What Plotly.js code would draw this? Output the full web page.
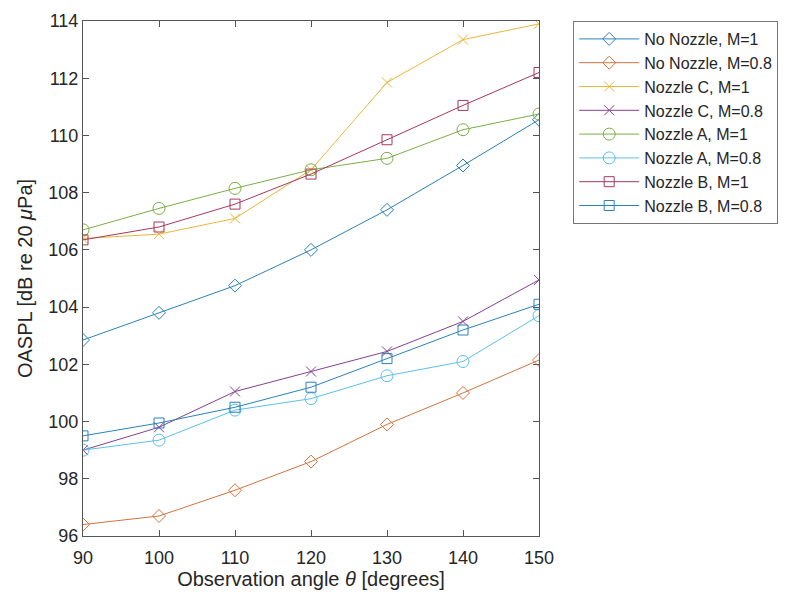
<!DOCTYPE html>
<html>
<head>
<meta charset="utf-8">
<script src="https://cdn.plot.ly/plotly-3.0.1.min.js"></script>
<style>html,body{margin:0;padding:0;background:#fff;}#chart{width:787px;height:599px;}</style>
</head>
<body>
<div id="chart"></div>
<script>
const angles = [90, 100, 110, 120, 130, 140, 150];
const noNozzleM1  = [102.85, 103.8, 104.75, 106.0, 107.4, 108.95, 110.55];
const noNozzleM08 = [96.4, 96.7, 97.6, 98.6, 99.9, 101.0, 102.15];
const nozzleCM1   = [106.4, 106.55, 107.1, 108.8, 111.85, 113.35, 113.9];
const nozzleCM08  = [99.0, 99.8, 101.05, 101.75, 102.45, 103.5, 104.95];
const nozzleAM1   = [106.7, 107.45, 108.15, 108.8, 109.2, 110.2, 110.75];
const nozzleAM08  = [99.0, 99.35, 100.4, 100.8, 101.6, 102.1, 103.7];
const nozzleBM1   = [106.35, 106.8, 107.6, 108.65, 109.85, 111.05, 112.2];
const nozzleBM08  = [99.5, 99.95, 100.5, 101.2, 102.2, 103.2, 104.1];

const names = ["No Nozzle, M=1","No Nozzle, M=0.8","Nozzle C, M=1","Nozzle C, M=0.8",
               "Nozzle A, M=1","Nozzle A, M=0.8","Nozzle B, M=1","Nozzle B, M=0.8"];
const series = [noNozzleM1, noNozzleM08, nozzleCM1, nozzleCM08, nozzleAM1, nozzleAM08, nozzleBM1, nozzleBM08];
const colors = ["#2a82b8","#d2733f","#e8b83a","#85418f","#7cae45","#5cc0ea","#a8385a","#2a82b8"];
const symbols = ["diamond-open","diamond-open","x-thin-open","x-thin-open","circle-open","circle-open","square-open","square-open"];
const sizes = [10, 10, 10, 10, 12, 12, 10, 10];

const traces = series.map((ys, i) => ({
  x: angles, y: ys, name: names[i], type: 'scatter', mode: 'lines+markers',
  line: {color: colors[i], width: 1},
  marker: {symbol: symbols[i], size: sizes[i], color: colors[i], line: {color: colors[i], width: 1}}
}));

const axisCommon = {
  showgrid: false, zeroline: false, showline: true, mirror: 'ticks',
  linecolor: '#555', linewidth: 1, ticks: 'inside', ticklen: 6, tickcolor: '#555',
  tickfont: {family: 'Liberation Sans, Arial, sans-serif', size: 18, color: '#262626'}
};

const layout = {
  width: 787, height: 599,
  margin: {l: 83, r: 248, t: 21, b: 63, autoexpand: false},
  paper_bgcolor: '#fff', plot_bgcolor: '#fff',
  font: {family: 'Liberation Sans, Arial, sans-serif', color: '#262626'},
  xaxis: Object.assign({}, axisCommon, {
    range: [90, 150], tickvals: angles, ticktext: angles.map(String), ticklabelstandoff: 5,
    title: {text: 'Observation angle <i>θ</i> [degrees]', font: {size: 20, color: '#262626'}, standoff: 5}
  }),
  yaxis: Object.assign({}, axisCommon, {
    range: [96, 114], dtick: 2, tick0: 96,
    title: {text: 'OASPL [dB re 20 <i>μ</i>Pa]', font: {size: 20, color: '#262626'}, standoff: 10}
  }),
  showlegend: true,
  legend: {
    x: 1.075, y: 1, xanchor: 'left', yanchor: 'top',
    bgcolor: '#fff', bordercolor: '#777', borderwidth: 1,
    font: {size: 16, color: '#262626'}, itemwidth: 60, tracegroupgap: 0
  }
};

Plotly.newPlot('chart', traces, layout, {staticPlot: true, displayModeBar: false});
</script>
</body>
</html>
